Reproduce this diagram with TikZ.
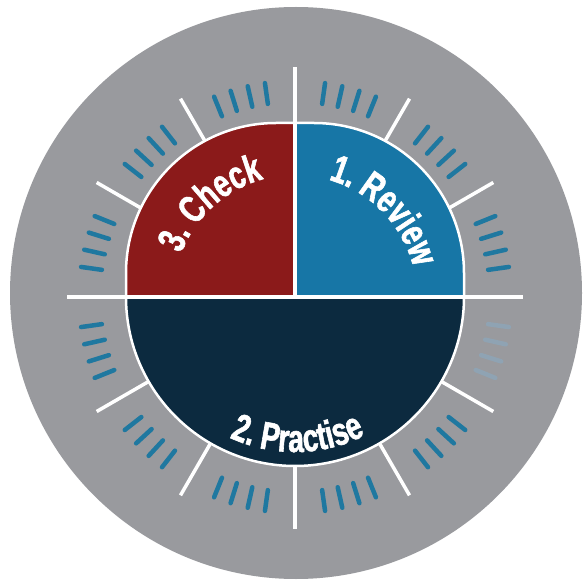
\documentclass[tikz,border=0pt]{standalone}
\usepackage{fontspec}
\newfontfamily\cfont[FakeStretch=0.72,FakeBold=1.5]{Liberation Sans Bold}
\usetikzlibrary{decorations.text}
\definecolor{ringgray}{HTML}{999A9E}
\definecolor{checkred}{HTML}{8B1A1A}
\definecolor{reviewblue}{HTML}{1776A6}
\definecolor{practnavy}{HTML}{0C2A3F}
\definecolor{tickblue}{HTML}{1F78A0}
\definecolor{tickfade}{HTML}{8FA3B3}
\tikzset{
  wline/.style={draw=white, line width=3.5pt},
  bluetick/.style={draw=tickblue, line width=4.5pt, line cap=round},
  fadetick/.style={draw=tickfade, line width=4.5pt, line cap=round},
  segment/.style={draw=white, line width=2.5pt},
  arclabel/.style={decorate, decoration={text along path, text align=center,
      text={|\color{white}\cfont\fontsize{39}{39}\selectfont|#1}}}
}
\begin{document}
\begin{tikzpicture}[x=1pt,y=1pt]
\useasboundingbox[fill=white] (0,0) rectangle (584,582);
\node[circle, fill=ringgray, minimum size=572pt, inner sep=0pt] (ring) at (296,289) {};
\coordinate (C) at (295,285);
% white separators
\foreach \a in {30,60,120,150,210,240,300,330}
  \draw[wline] ([shift={(\a:165)}]C) -- ([shift={(\a:229)}]C);
% blue tick groups
\foreach \s in {0,...,10}
  \foreach \d in {-7,-2.35,2.35,7} {
    \pgfmathsetmacro{\ang}{30*\s+15+\d}
    \draw[bluetick] ([shift={(\ang:195)}]C) -- ([shift={(\ang:216)}]C);
  }
\foreach \d in {-7,-2.35,2.35,7} {
  \pgfmathsetmacro{\ang}{345+\d}
  \draw[fadetick] ([shift={(\ang:195)}]C) -- ([shift={(\ang:216)}]C);
}
% bottom part of vertical line (below the semicircle)
\draw[wline] ([yshift=-160pt]C) -- ([yshift=-232pt]C);
% segments
\path[segment, fill=checkred] (C) -- ++(-169,0) -- ++(0,24)
  arc[start angle=180, end angle=90, radius=150] -- ++(19,0) -- cycle;
\path[segment, fill=reviewblue] (C) -- ++(169,0) -- ++(0,24)
  arc[start angle=0, end angle=90, radius=150] -- ++(-19,0) -- cycle;
\path[segment, fill=practnavy] (C) ++(-169,0)
  arc[start angle=180, end angle=360, radius=169] -- cycle;
% cross
\draw[wline] ([xshift=-228pt]C) -- ([xshift=228pt]C);
\draw[wline] (C) -- ([yshift=230pt]C);
% labels
\path[arclabel={3. Check}] ([shift={(166:122)}]C) arc[start angle=166, end angle=98, radius=122];
\path[arclabel={1. Review}] ([shift={(80:122)}]C) arc[start angle=80, end angle=8, radius=122];
\path[arclabel={2. Practise}] ([shift={(230:155)}]C) arc[start angle=230, end angle=312, radius=155];
\end{tikzpicture}
\end{document}
